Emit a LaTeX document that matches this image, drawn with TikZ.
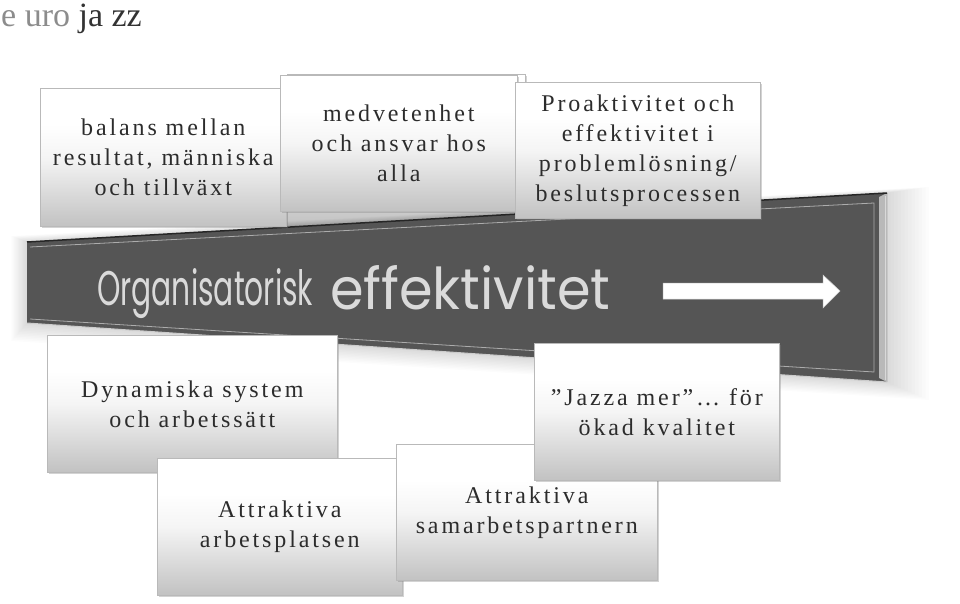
\documentclass[tikz,border=0pt]{standalone}
\usepackage{fontspec}
\usepackage{graphicx}
\usetikzlibrary{shadows}

\newfontfamily\boxfont[LetterSpace=12]{Liberation Serif}
\newfontfamily\logofont{Liberation Serif}
\newfontfamily\bannerfont{Poppins}

\definecolor{bannergray}{HTML}{555555}
\definecolor{bannertext}{HTML}{DADADA}
\definecolor{boxtext}{HTML}{2C2C2C}

\pgfdeclareverticalshading{idefade}{100bp}{color(0bp)=(black!24);
    color(25bp)=(black!24); color(50bp)=(white!96!black);
    color(62bp)=(white); color(100bp)=(white)}

\tikzset{
    idebox/.style = {rectangle, anchor = north west, inner sep = 0pt,
                     draw = gray!55, line width = 0.6pt,
                     shading = idefade,
                     drop shadow = {shadow xshift = 1.5pt, shadow yshift = -2pt,
                                    opacity = 0.35},
                     align = center, text = boxtext,
                     font = \boxfont\fontsize{24}{30}\selectfont}
}

\begin{document}
\begin{tikzpicture}[x = 1pt, y = -1pt]
        \useasboundingbox (0, 0) rectangle (960, 604);

        \node [anchor = base west, inner sep = 0pt,
               font = \logofont\fontsize{34}{40}\selectfont] (logo) at (1, 27)
              {\textcolor{gray!90}{e uro} \textcolor{black!80}{ja zz}};

        \node [idebox, minimum width = 238pt, minimum height = 151pt,
               drop shadow = {opacity = 0}] (medvbak) at (287, 74) {};

        \foreach \g in {1, ..., 12}
            \fill [black, opacity = 0.012]
                (27 - \g * 1.3, 242 - \g * 0.5) -- (887 + \g * 3.5, 193 - \g * 0.5)
                -- (887 + \g * 3.5, 382 + \g * 1.5) -- (27 - \g * 1.3, 323 + \g * 1.5) -- cycle;
        \fill [bannergray] (27, 242) -- (887, 193) -- (887, 382) -- (27, 323) -- cycle;
        \fill [gray!55] (879, 197) -- (887, 193) -- (887, 382) -- (879, 378) -- cycle;
        \draw [white!85!black, line width = 0.6pt] (885, 196) -- (885, 380);
        \draw [gray!65, line width = 0.8pt]
            (30, 247) -- (874, 203) -- (874, 372) -- (30, 319);
        \draw [black!85, line width = 1.5pt] (27, 242) -- (887, 193);
        \draw [gray!40, line width = 1pt] (27, 323) -- (887, 382);

        \node [anchor = base west, inner sep = 0pt, text = bannertext] (orgtxt) at (97, 305)
              {\resizebox{216pt}{37pt}{\bannerfont Organisatorisk}};
        \node [anchor = base west, inner sep = 0pt, text = bannertext] (efftxt) at (330, 309)
              {\resizebox{280pt}{44pt}{\bannerfont effektivitet}};

        \filldraw [fill = white, draw = gray!40, line width = 0.5pt]
            (663, 283) -- (823, 283) -- (823, 275) -- (840, 291)
            -- (823, 308) -- (823, 299) -- (663, 299) -- cycle;

        \node [idebox, minimum width = 246pt, minimum height = 138pt] (balans) at (40, 88)
              {balans mellan\\resultat, människa\\och tillväxt};
        \node [idebox, minimum width = 237pt, minimum height = 136pt] (medv) at (280, 75)
              {medvetenhet\\och ansvar hos\\alla};
        \node [idebox, minimum width = 245pt, minimum height = 136pt] (proak) at (515, 82)
              {Proaktivitet och\\effektivitet i\\problemlösning/\\beslutsprocessen};

        \node [idebox, minimum width = 290pt, minimum height = 137pt] (dyn) at (47, 335)
              {Dynamiska system\\och arbetssätt};
        \node [idebox, minimum width = 245pt, minimum height = 137pt] (arbpl) at (157, 458)
              {Attraktiva\\arbetsplatsen};
        \node [idebox, minimum width = 261pt, minimum height = 136pt] (samarb) at (396, 444)
              {Attraktiva\\samarbetspartnern};
        \node [idebox, minimum width = 245pt, minimum height = 137pt] (jazza) at (534, 343)
              {”Jazza mer”… för\\ökad kvalitet};
    \end{tikzpicture}
\end{document}
